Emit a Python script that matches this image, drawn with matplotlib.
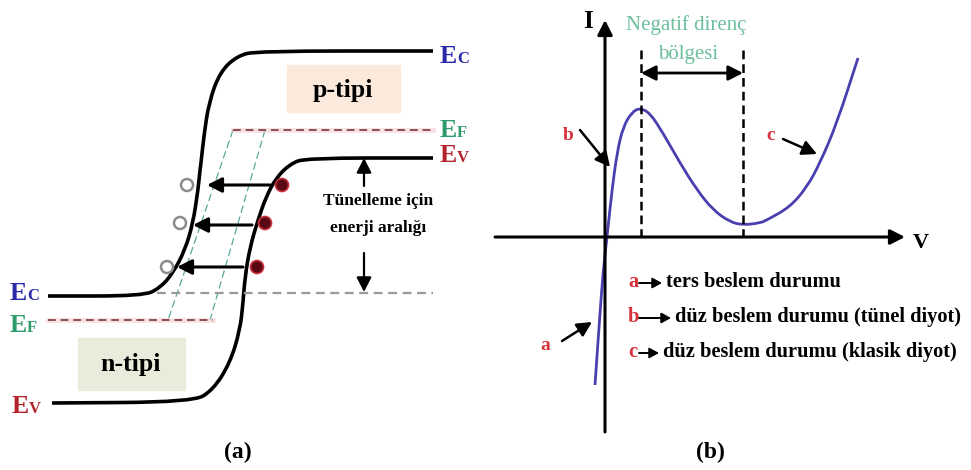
import numpy as np
import matplotlib.pyplot as plt
from matplotlib.path import Path
from matplotlib.patches import PathPatch, Rectangle, Circle

plt.rcParams['font.family'] = ['Liberation Serif', 'DejaVu Serif']

# =========================
# DATA (pixel coordinates, y grows downward)
# =========================
# (a) band diagram
ec_x = [48, 143, 160, 173, 185, 193, 198, 200, 201, 204, 209, 220, 237, 257, 433]
ec_y = [296, 296, 288, 273, 250, 223, 190, 170, 163, 135, 102, 72, 56, 51, 51]
ev_x = [52, 193, 213, 230, 240, 243, 245, 250, 258, 266, 276, 290, 306, 433]
ev_y = [403, 402, 390, 363, 330, 303, 277, 247, 220, 197, 178, 164, 158, 158]

ef_p = (233, 433, 130)          # x0, x1, y
ef_n = (48, 213, 320)
tunnel_floor = (157, 433, 293)
slant_lines = [((233, 130), (168, 320)), ((265, 130), (210, 320))]

arrow_y = [185, 225, 267]
arrow_tail = [270, 252, 243]
arrow_head = [207, 193, 177]
holes = [(187, 185), (180, 223), (167, 267)]
electrons = [(282, 185), (265, 223), (257, 267)]

# (b) tunnel diode I-V
iv_x = [595, 600, 603, 607, 612, 617, 623, 632, 640, 650, 663, 680, 697, 713,
        730, 743, 760, 767, 790, 807, 820, 837, 858]
iv_y = [385, 313, 273, 237, 190, 153, 127, 112, 108, 113, 133, 163, 190, 210,
        222, 225, 223, 220, 207, 187, 163, 123, 58]
peak_v, valley_v = 641, 743

legend_keys = ['a', 'b', 'c']
legend_texts = ['ters beslem durumu',
                'düz beslem durumu (tünel diyot)',
                'düz beslem durumu (klasik diyot)']

BAND_BLUE = '#2a2aa8'
BAND_GREEN = '#2f9a6c'
BAND_RED = '#b4222c'
KEY_RED = '#d8323c'
CURVE_BLUE = '#4a3fae'


def smooth_path(xs, ys):
    # quadratic bezier through segment midpoints
    pts = list(zip(xs, ys))
    verts = [pts[0]]
    codes = [Path.MOVETO]
    mids = [((pts[i][0] + pts[i + 1][0]) / 2, (pts[i][1] + pts[i + 1][1]) / 2)
            for i in range(len(pts) - 1)]
    verts.append(mids[0]); codes.append(Path.LINETO)
    for i in range(1, len(pts) - 1):
        verts += [pts[i], mids[i]]
        codes += [Path.CURVE3, Path.CURVE3]
    verts.append(pts[-1]); codes.append(Path.LINETO)
    return Path(verts, codes)


def arrow(ax, x0, y0, x1, y1, lw=2.0, hl=0.55, hw=0.28, ms=16, color='black'):
    ax.annotate('', xy=(x1, y1), xytext=(x0, y0),
                arrowprops=dict(arrowstyle=f'-|>,head_length={hl},head_width={hw}',
                                lw=lw, color=color, shrinkA=0, shrinkB=0,
                                mutation_scale=ms))


def band_label(ax, x, yb, sub, color):
    ax.text(x, yb, 'E', fontsize=18.5, fontweight='bold', color=color, va='baseline')
    ax.text(x + 17, yb, sub, fontsize=12, fontweight='bold', color=color, va='baseline')


fig = plt.figure(figsize=(9.71, 4.70), dpi=100)
ax = fig.add_axes([0, 0, 1, 1])
ax.set_xlim(0, 971)
ax.set_ylim(470, 0)
ax.axis('off')

# =========================
# (a) band diagram
# =========================
ax.add_patch(Rectangle((287, 65), 113, 47, color='#fbe9dc', zorder=0))
ax.add_patch(Rectangle((78, 338), 107, 52, color='#e9ecdb', zorder=0))
ax.text(343, 90, 'p-tipi', fontsize=18.5, fontweight='bold', ha='center', va='center')
ax.text(131, 365, 'n-tipi', fontsize=18.5, fontweight='bold', ha='center', va='center')

for (x0, y0), (x1, y1) in slant_lines:
    ax.plot([x0, x1], [y0, y1], color='#5aa89c', lw=0.9, ls=(0, (6, 3)))

ax.plot([tunnel_floor[0], tunnel_floor[1]], [tunnel_floor[2]] * 2,
        color='#9a9a9a', lw=1.6, ls=(0, (4, 2.5)))
for x0, x1, y in (ef_p, ef_n):
    ax.plot([x0, x1], [y, y], color='#f3c4c8', lw=3.5, alpha=0.5)
    ax.plot([x0, x1], [y, y], color='#8a5058', lw=1.4, ls=(0, (4, 2.5)))

ax.add_patch(PathPatch(smooth_path(ec_x, ec_y), fill=False, lw=2.6, color='black'))
ax.add_patch(PathPatch(smooth_path(ev_x, ev_y), fill=False, lw=2.6, color='black'))

for y, x0, x1 in zip(arrow_y, arrow_tail, arrow_head):
    arrow(ax, x0, y, x1, y, lw=2.2)
for cx, cy in holes:
    ax.add_patch(Circle((cx, cy), 6, fill=False, ec='#8c8c8c', lw=1.8))
for cx, cy in electrons:
    ax.add_patch(Circle((cx, cy), 6.5, fc='#5a0912', ec='#c8303c', lw=1.2))

arrow(ax, 364, 186, 364, 158, lw=1.6)
arrow(ax, 364, 253, 364, 292, lw=1.6)
ax.text(378, 201, 'Tünelleme için', fontsize=12.5, fontweight='bold', ha='center', va='center')
ax.text(378, 228, 'enerji aralığı', fontsize=12.5, fontweight='bold', ha='center', va='center')

band_label(ax, 440, 63, 'C', BAND_BLUE)
band_label(ax, 440, 137, 'F', BAND_GREEN)
band_label(ax, 440, 162, 'V', BAND_RED)
band_label(ax, 10, 300, 'C', BAND_BLUE)
band_label(ax, 10, 332, 'F', BAND_GREEN)
band_label(ax, 12, 413, 'V', BAND_RED)

ax.text(238, 452, '(a)', fontsize=17, fontweight='bold', ha='center', va='center')

# =========================
# (b) I-V characteristic
# =========================
arrow(ax, 605, 432, 605, 20, lw=2.2)
arrow(ax, 495, 237, 905, 237, lw=2.2)
ax.text(588, 22, 'I', fontsize=18, fontweight='bold', ha='center', va='center')
ax.text(921, 243, 'V', fontsize=16, fontweight='bold', ha='center', va='center')

for xv in (peak_v, valley_v):
    ax.plot([xv, xv], [50, 237], color='black', lw=1.8, ls=(0, (3.5, 2)))
ax.annotate('', xy=(valley_v, 73), xytext=(peak_v, 73),
            arrowprops=dict(arrowstyle='<|-|>,head_length=0.55,head_width=0.28',
                            lw=2.0, color='black', shrinkA=0, shrinkB=0,
                            mutation_scale=16))
ax.text(686, 25, 'Negatif direnç', fontsize=15, color='#6cbf9c', ha='center', va='center')
ax.text(688, 55, 'bölgesi', fontsize=15, color='#6cbf9c', ha='center', va='center')

ax.add_patch(PathPatch(smooth_path(iv_x, iv_y), fill=False, lw=2.0, color=CURVE_BLUE))

ax.text(568, 135, 'b', fontsize=14, fontweight='bold', color=KEY_RED, ha='center', va='center')
arrow(ax, 580, 130, 610, 167, lw=1.8)
ax.text(771, 136, 'c', fontsize=14, fontweight='bold', color=KEY_RED, ha='center', va='center')
arrow(ax, 783, 139, 817, 154, lw=1.8)
ax.text(545, 346, 'a', fontsize=14, fontweight='bold', color=KEY_RED, ha='center', va='center')
arrow(ax, 562, 341, 592, 322, lw=1.8)

legend_y = [282, 317, 352]
text_x = [666, 675, 663]
for key, txt, y, tx in zip(legend_keys, legend_texts, legend_y, text_x):
    ax.text(628, y, key, fontsize=14.7, fontweight='bold', color=KEY_RED, va='center')
    arrow(ax, 639, y + 1, tx - 4, y + 1, lw=1.4, hl=0.4, hw=0.22, ms=14)
    ax.text(tx, y, txt, fontsize=14.7, fontweight='bold', va='center')

ax.text(710, 452, '(b)', fontsize=17, fontweight='bold', ha='center', va='center')

fig.savefig('out.png', dpi=100, facecolor='white')
